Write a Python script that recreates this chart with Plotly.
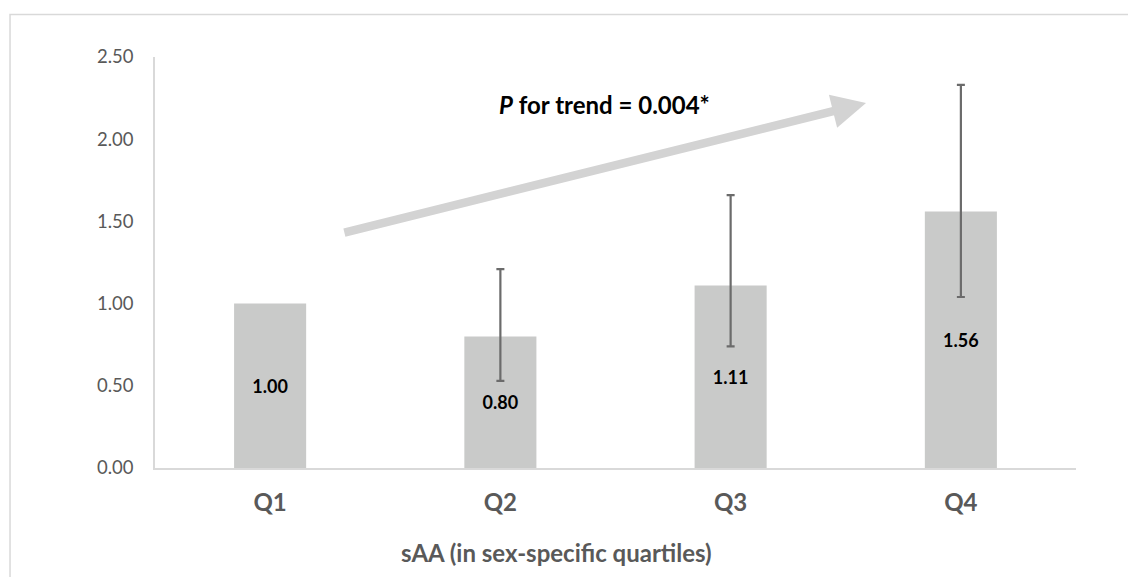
import plotly.graph_objects as go

categories = ["Q1", "Q2", "Q3", "Q4"]
values = [1.00, 0.80, 1.11, 1.56]
ci_lower = [None, 0.53, 0.74, 1.04]
ci_upper = [None, 1.21, 1.66, 2.33]
y_ticks = [0.0, 0.5, 1.0, 1.5, 2.0, 2.5]

GRAY_TXT = "#595959"
FONT = "Lato"

fig = go.Figure()
fig.add_trace(go.Bar(
    x=categories, y=values,
    marker=dict(color="#c9cac9", line=dict(width=0)),
    texttemplate="<b>%{y:.2f}</b>",
    textposition="inside", insidetextanchor="middle",
    textfont=dict(family=FONT, size=18, color="black"),
    hoverinfo="skip",
))

ex, ey, ep, em = [], [], [], []
for c, v, lo, hi in zip(categories, values, ci_lower, ci_upper):
    if lo is None:
        continue
    ex.append(c); ey.append(v); ep.append(hi - v); em.append(v - lo)

fig.add_trace(go.Scatter(
    x=ex, y=ey, mode="markers", marker=dict(size=0.1, opacity=0),
    error_y=dict(type="data", array=ep, arrayminus=em, symmetric=False,
                 color="#6b6b6b", thickness=2.2, width=4),
    hoverinfo="skip", showlegend=False,
))

fig.add_annotation(
    x=2.588, y=2.22, ax=0.316, ay=1.43, xref="x", yref="y", axref="x", ayref="y",
    text="", showarrow=True, arrowhead=2, arrowsize=0.8, arrowwidth=8.5,
    arrowcolor="#d3d3d3",
)
fig.add_annotation(
    x=1.454, y=2.214, xref="x", yref="y", showarrow=False,
    text="<b><i>P</i> for trend = 0.004*</b>",
    font=dict(family=FONT, size=24, color="black"),
)
# x-axis title (offset left of plot centre, as in the reference)
fig.add_annotation(
    x=(556 - 155) / 921, y=-(552 - 468) / 411, xref="paper", yref="paper",
    xanchor="center", yanchor="middle",
    showarrow=False, text="<b>sAA (in sex-specific quartiles)</b>",
    font=dict(family=FONT, size=24, color=GRAY_TXT),
)

fig.add_shape(type="rect", xref="paper", yref="paper",
              x0=-0.1574, y0=-0.4, x1=1.2, y1=1.1034,
              line=dict(color="#d9d9d9", width=1.5), fillcolor="rgba(0,0,0,0)",
              layer="below")

fig.update_layout(
    width=1128, height=577,
    margin=dict(l=155, r=52, t=57, b=109),
    paper_bgcolor="white", plot_bgcolor="white",
    bargap=0.687, showlegend=False,
    font=dict(family=FONT, color=GRAY_TXT),
    xaxis=dict(
        showline=True, linecolor="#d9d9d9", linewidth=1.5, showgrid=False,
        ticks="", tickfont=dict(family=FONT, size=24, color=GRAY_TXT),
        tickvals=categories, ticktext=[f"<b>{c}</b>" for c in categories],
        ticklabelstandoff=12,
    ),
    yaxis=dict(
        range=[0, 2.5], tickvals=y_ticks, tickformat=".2f",
        showline=True, linecolor="#d9d9d9", linewidth=1.5, showgrid=False,
        zeroline=False, ticks="", ticklabelstandoff=16,
        tickfont=dict(family=FONT, size=18.5, color=GRAY_TXT),
    ),
)

fig.write_html("out.html")
